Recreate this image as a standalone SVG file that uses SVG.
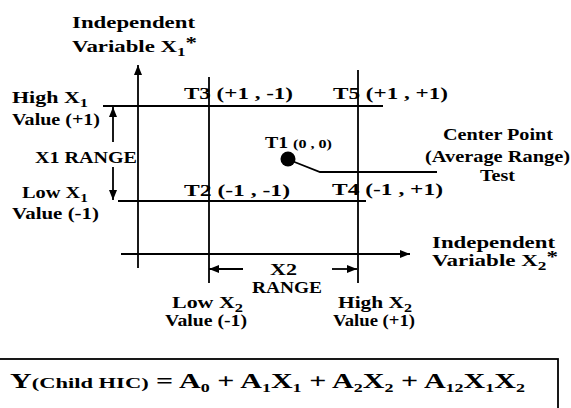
<svg xmlns="http://www.w3.org/2000/svg" width="571" height="408" viewBox="0 0 571 408">
<style>
text{font-family:"Liberation Serif","Times New Roman",serif;font-weight:bold;fill:#000;font-size:16px}
.ln{stroke:#000;stroke-width:1.8;fill:none}
.sm{font-size:12px}
.fm{font-size:20px}
</style>
<defs>
<marker id="ah" markerUnits="userSpaceOnUse" markerWidth="11" markerHeight="9" refX="10" refY="4" orient="auto">
<path d="M0,0 L10,4 L0,8 z" fill="#000"/>
</marker>
</defs>
<rect width="571" height="408" fill="#fff"/>
<g id="connectors">
<line class="ln" x1="138" y1="268" x2="138" y2="65" marker-end="url(#ah)"/>
<line class="ln" x1="121" y1="254" x2="410" y2="254" marker-end="url(#ah)"/>
<line class="ln" x1="103" y1="106" x2="383" y2="106"/>
<line class="ln" x1="118" y1="201" x2="366" y2="201"/>
<line class="ln" x1="209" y1="77" x2="209" y2="283"/>
<line class="ln" x1="358" y1="70" x2="358" y2="283"/>
<line class="ln" x1="113" y1="142" x2="113" y2="107" marker-end="url(#ah)"/>
<line class="ln" x1="113" y1="167" x2="113" y2="200" marker-end="url(#ah)"/>
<line class="ln" x1="243" y1="269" x2="209" y2="269" marker-end="url(#ah)"/>
<line class="ln" x1="332" y1="269" x2="357" y2="269" marker-end="url(#ah)"/>
<polyline class="ln" points="292,161 320,172 437,172"/>
</g>
<g id="center-dot"><circle cx="288" cy="159" r="7.5" fill="#000"/></g>
<g id="y-axis-label">
<text x="72" y="28" textLength="123" lengthAdjust="spacingAndGlyphs">Independent</text>
<text x="72" y="52" textLength="125" lengthAdjust="spacingAndGlyphs">Variable X<tspan class="sm" dy="4">1</tspan><tspan dy="-8">*</tspan></text>
</g>
<g id="high-x1">
<text x="12" y="103" textLength="76" lengthAdjust="spacingAndGlyphs">High X<tspan class="sm" dy="4">1</tspan></text>
<text x="12" y="125" textLength="88" lengthAdjust="spacingAndGlyphs">Value (+1)</text>
</g>
<g id="x1-range"><text x="35" y="163" textLength="102" lengthAdjust="spacingAndGlyphs">X1 RANGE</text></g>
<g id="low-x1">
<text x="22" y="198" textLength="66" lengthAdjust="spacingAndGlyphs">Low X<tspan class="sm" dy="4">1</tspan></text>
<text x="12" y="219" textLength="87" lengthAdjust="spacingAndGlyphs">Value (-1)</text>
</g>
<g id="t3"><text x="184" y="99" textLength="109" lengthAdjust="spacingAndGlyphs">T3 (+1 , -1)</text></g>
<g id="t5"><text x="333" y="99" textLength="115" lengthAdjust="spacingAndGlyphs">T5 (+1 , +1)</text></g>
<g id="t1"><text x="265" y="148" textLength="67" lengthAdjust="spacingAndGlyphs">T1 <tspan font-size="13">(0 , 0)</tspan></text></g>
<g id="t2"><text x="184" y="196" textLength="106" lengthAdjust="spacingAndGlyphs">T2 (-1 , -1)</text></g>
<g id="t4"><text x="332" y="195" textLength="111" lengthAdjust="spacingAndGlyphs">T4 (-1 , +1)</text></g>
<g id="center-point">
<text x="443" y="140" textLength="110" lengthAdjust="spacingAndGlyphs">Center Point</text>
<text x="425" y="162" textLength="145" lengthAdjust="spacingAndGlyphs">(Average Range)</text>
<text x="480" y="181" textLength="35" lengthAdjust="spacingAndGlyphs">Test</text>
</g>
<g id="x-axis-label">
<text x="432" y="248" textLength="123" lengthAdjust="spacingAndGlyphs">Independent</text>
<text x="432" y="266" textLength="126" lengthAdjust="spacingAndGlyphs">Variable X<tspan class="sm" dy="4">2</tspan><tspan dy="-8">*</tspan></text>
</g>
<g id="x2-range">
<text x="270" y="275" textLength="27" lengthAdjust="spacingAndGlyphs">X2</text>
<text x="252" y="293" textLength="70" lengthAdjust="spacingAndGlyphs">RANGE</text>
</g>
<g id="low-x2">
<text x="172" y="308" textLength="71" lengthAdjust="spacingAndGlyphs">Low X<tspan class="sm" dy="4">2</tspan></text>
<text x="165" y="326" textLength="82" lengthAdjust="spacingAndGlyphs">Value (-1)</text>
</g>
<g id="high-x2">
<text x="338" y="308" textLength="74" lengthAdjust="spacingAndGlyphs">High X<tspan class="sm" dy="4">2</tspan></text>
<text x="333" y="326" textLength="82" lengthAdjust="spacingAndGlyphs">Value (+1)</text>
</g>
<g id="equation">
<rect x="-3" y="359" width="561" height="60" class="ln" stroke-width="2"/>
<text x="10" y="388" class="fm" textLength="515" lengthAdjust="spacingAndGlyphs">Y<tspan font-size="15">(Child HIC)</tspan> = A<tspan class="sm" dy="4">0</tspan><tspan dy="-4"> + A</tspan><tspan class="sm" dy="4">1</tspan><tspan dy="-4">X</tspan><tspan class="sm" dy="4">1</tspan><tspan dy="-4"> + A</tspan><tspan class="sm" dy="4">2</tspan><tspan dy="-4">X</tspan><tspan class="sm" dy="4">2</tspan><tspan dy="-4"> + A</tspan><tspan class="sm" dy="4">12</tspan><tspan dy="-4">X</tspan><tspan class="sm" dy="4">1</tspan><tspan dy="-4">X</tspan><tspan class="sm" dy="4">2</tspan></text>
</g>
</svg>
